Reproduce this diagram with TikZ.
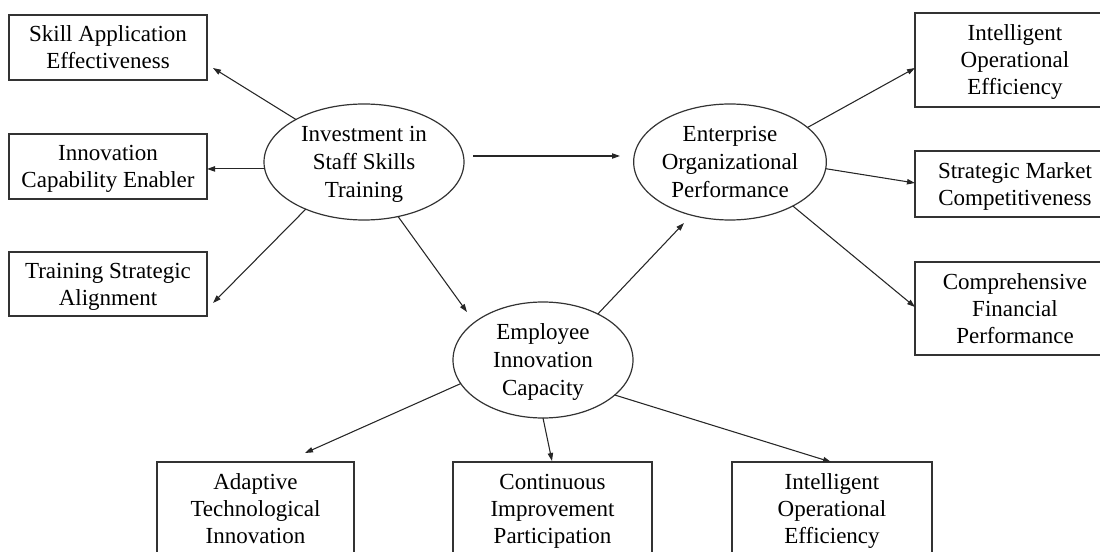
\documentclass[tikz,border=0pt]{standalone}
\usepackage{fontspec}
\setmainfont{Liberation Serif}
\usetikzlibrary{shapes.geometric,arrows.meta,calc}
\begin{document}
\begin{tikzpicture}[x=0.75pt,y=-0.75pt,
  lbl/.style={font=\fontsize{17.25}{20.25}\selectfont, align=center, text depth=0pt},
  itembox/.style={lbl, draw=black!80, line width=0.9pt, rectangle, inner sep=0pt, outer sep=0pt},
  construct/.style={draw=black!80, line width=0.9pt, ellipse, inner sep=0pt, outer sep=0pt,
    font=\fontsize{17.25}{21}\selectfont, align=center, text depth=0pt},
  arr/.style={draw=black!85, line width=0.8pt, -{Triangle[length=6pt,width=4pt]}}]
\clip (0,0) rectangle (1100,552);

% latent constructs (sizes in pt: 1 unit = 0.75pt)
\node[construct, minimum width=150pt, minimum height=87pt, text depth=-4pt] (inv) at (364,162) {Investment in\\Staff Skills\\Training};
\node[construct, minimum width=135pt, minimum height=87pt] (ent) at (730,162) {Enterprise\\Organizational\\Performance};
\node[construct, minimum width=135pt, minimum height=87pt] (emp) at (543,360) {Employee\\Innovation\\Capacity};

% indicators of training investment
\node[itembox, minimum width=148.5pt, minimum height=48.75pt] (skill) at (108,47.5) {Skill Application\\Effectiveness};
\node[itembox, minimum width=148.5pt, minimum height=48.75pt] (innov) at (108,166.5) {Innovation\\Capability Enabler};
\node[itembox, minimum width=148.5pt, minimum height=48pt] (train) at (108,284) {Training Strategic\\Alignment};

% indicators of organizational performance
\node[itembox, minimum width=150pt, minimum height=70.5pt] (iopa) at (1015,60) {Intelligent\\Operational\\Efficiency};
\node[itembox, minimum width=150pt, minimum height=49.5pt] (smc) at (1015,184) {Strategic Market\\Competitiveness};
\node[itembox, minimum width=150pt, minimum height=69.75pt] (cfp) at (1015,308.5) {Comprehensive\\Financial\\Performance};

% indicators of innovation capacity
\node[itembox, minimum width=147.75pt, minimum height=70.5pt] (ati) at (255.5,509) {Adaptive\\Technological\\Innovation};
\node[itembox, minimum width=149.25pt, minimum height=70.5pt] (cip) at (552.5,509) {Continuous\\Improvement\\Participation};
\node[itembox, minimum width=150pt, minimum height=70.5pt] (iopb) at (832,509) {Intelligent\\Operational\\Efficiency};

% arrow tips
\coordinate (t-skill) at (213,68);
\coordinate (t-train) at (213,303);
\coordinate (t-emp) at (467,312);
\coordinate (s-ent) at (473,156);
\coordinate (t-ent) at (620,156);
\coordinate (t-iopa) at (915,68);
\coordinate (t-smc) at (915,183);
\coordinate (t-cfp) at (915,307);
\coordinate (t-ent2) at (684,223);
\coordinate (t-ati) at (305,453);
\coordinate (t-cip) at (552,461);
\coordinate (t-iopb) at (831,462);

% paths
\draw[arr] (inv.148) -- (t-skill);
\draw[arr] (inv.184.6) -- (inv.184.6 -| innov.east);
\draw[arr] (inv.219.3) -- (t-train);
\draw[arr] (inv.302.8) -- (t-emp);
\draw[arr] (s-ent) -- (t-ent);
\draw[arr] (ent.24.7) -- (t-iopa);
\draw[arr] (ent.356.2) -- (t-smc);
\draw[arr] (ent.325.1) -- (t-cfp);
\draw[arr] (emp.40.1) -- (t-ent2);
\draw[arr] (emp.196.5) -- (t-ati);
\draw[arr] (emp.south) -- (t-cip);
\draw[arr] (emp.334.6) -- (t-iopb);
\end{tikzpicture}
\end{document}
